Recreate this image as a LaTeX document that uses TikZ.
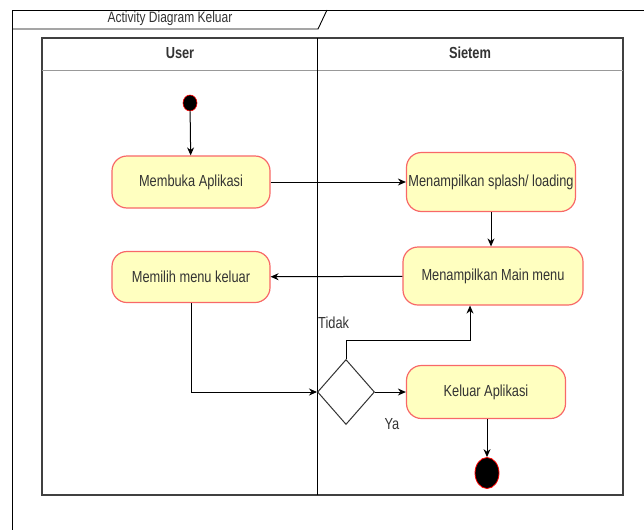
\documentclass[tikz,border=0pt]{standalone}
\usepackage{fontspec}
\setmainfont{Liberation Sans}
\newfontfamily\diagfont[FakeStretch=0.8]{Liberation Sans}
\usetikzlibrary{shapes.geometric,arrows.meta}
\definecolor{actfill}{HTML}{FFFFC0}
\definecolor{actline}{HTML}{F86868}
\definecolor{txt}{HTML}{333333}
\tikzset{
  act/.style={draw=actline, fill=actfill, line width=1.2pt, rounded corners=15pt,
    font=\diagfont\fontsize{16}{18}\selectfont, text=txt, inner sep=0pt},
  flow/.style={draw=black, line width=1pt, -{Stealth[length=8pt,width=7pt]}},
  poolline/.style={draw=black!75, line width=1.3pt},
  lbl/.style={font=\diagfont\fontsize{16}{18}\selectfont, text=txt, inner sep=0pt},
  ttl/.style={font=\diagfont\fontsize{15}{17}\selectfont, text=txt, inner sep=0pt},
  hdr/.style={font=\diagfont\bfseries\fontsize{16}{18}\selectfont, text=txt, inner sep=0pt},
}
\begin{document}
\begin{tikzpicture}[x=1pt,y=-1pt]
\useasboundingbox (0,0) rectangle (644,530);
\fill[white] (0,0) rectangle (644,530);

% outer frame with title tab
\draw[black, line width=1pt] (644,10) -- (12,10) -- (12,530);
\draw[black, line width=0.9pt] (12,29) -- (318,29) -- (327,10);
\node[ttl] (title) at (170,19) {Activity Diagram Keluar};

% swimlane pool
\draw[poolline] (42,38) rectangle (623,495);
\draw[draw=black!40, line width=1pt] (42,70) -- (623,70);
\draw[black, line width=1pt] (317,38) -- (317,495);
\node[hdr] (laneuser) at (180,53) {User};
\node[hdr] (lanesys) at (470,53) {Sietem};

% activities
\node[draw=red, fill=black, line width=0.6pt, ellipse, minimum width=14pt, minimum height=16pt, inner sep=0pt] (start) at (190,103) {};
\node[act, minimum width=158pt, minimum height=52pt] (membuka) at (191,182) {Membuka Aplikasi};
\node[act, minimum width=169pt, minimum height=59pt] (splash) at (491,182) {Menampilkan splash/ loading};
\node[act, minimum width=180pt, minimum height=58pt] (mainmenu) at (493,276) {Menampilkan Main menu};
\node[act, minimum width=158pt, minimum height=51pt] (memilih) at (191,277) {Memilih menu keluar};
\node[draw=black!80, line width=1pt, diamond, minimum width=57pt, minimum height=65pt, inner sep=0pt] (dec) at (346,392) {};
\node[act, minimum width=159pt, minimum height=53pt] (keluar) at (486,392) {Keluar Aplikasi};
\node[draw=red, fill=black, line width=0.8pt, ellipse, minimum width=24pt, minimum height=31pt, inner sep=0pt] (end) at (487,473) {};

% connectors
\draw[flow] (start) -- (membuka);
\draw[flow] (membuka) -- (splash);
\draw[flow] (splash.south -| 491,0) -- (mainmenu.north -| 491,0);
\draw[flow] (mainmenu) -- (memilih);
\draw[flow] (memilih.south) |- (dec.west);
\coordinate (upbend) at (346,340);
\draw[flow] (dec.north) -- (upbend) -| (mainmenu.south -| 470,0);
\draw[flow] (dec.east) -- (keluar.west);
\draw[flow] (keluar.south -| end.north) -- (end.north);

% guard labels
\node[lbl, anchor=west] (tidak) at (318,323) {Tidak};
\node[lbl] (ya) at (392,424) {Ya};
\end{tikzpicture}
\end{document}
